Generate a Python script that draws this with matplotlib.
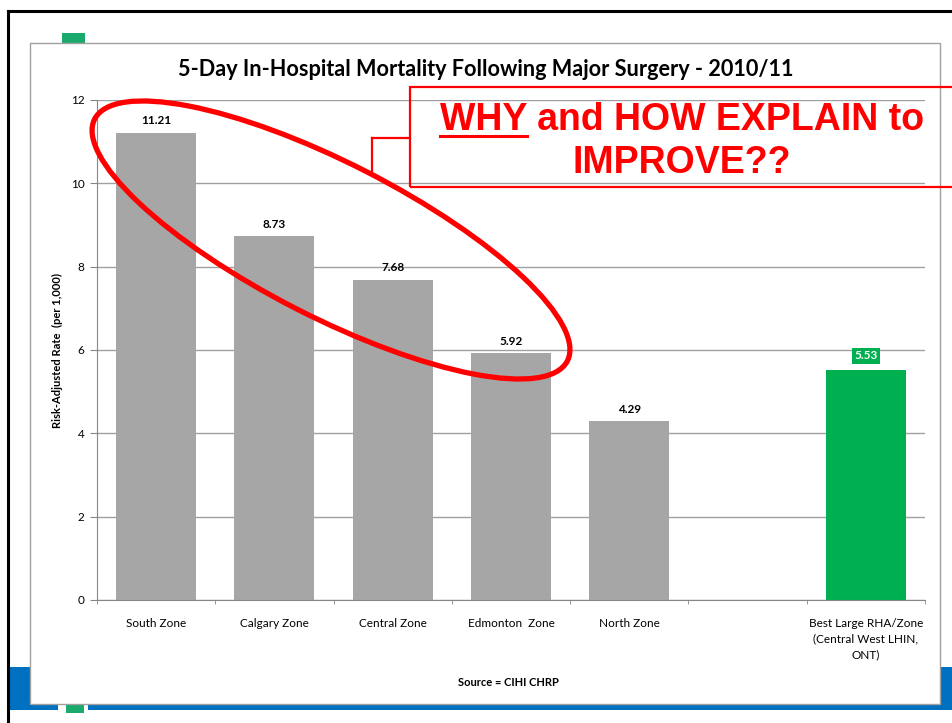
import numpy as np
import matplotlib
matplotlib.use("Agg")
import matplotlib.pyplot as plt
from matplotlib.patches import Rectangle, Ellipse
from matplotlib.lines import Line2D

categories = ["South Zone", "Calgary Zone", "Central Zone", "Edmonton  Zone", "North Zone", "",
              "Best Large RHA/Zone\n(Central West LHIN,\nONT)"]
rates = [11.21, 8.73, 7.68, 5.92, 4.29, None, 5.53]
bar_colors = ["#A6A6A6"] * 5 + [None, "#00B050"]
yticks = [0, 2, 4, 6, 8, 10, 12]

title = "5-Day In-Hospital Mortality Following Major Surgery - 2010/11"
ylabel = "Risk-Adjusted Rate  (per 1,000)"
source = "Source = CIHI CHRP"

W, H = 953, 723
plt.rcParams['font.family'] = ['Lato', 'DejaVu Sans']

fig = plt.figure(figsize=(W / 100, H / 100), dpi=100)


def fx(x):
    return x / W


def fy(y):
    return 1 - y / H


def box(x0, y0, x1, y1, **kw):
    r = Rectangle((fx(x0), fy(y1)), fx(x1) - fx(x0), fy(y0) - fy(y1),
                  transform=fig.transFigure, **kw)
    fig.add_artist(r)
    return r


def line(xs, ys, **kw):
    ln = Line2D([fx(x) for x in xs], [fy(y) for y in ys], transform=fig.transFigure, **kw)
    fig.add_artist(ln)
    return ln


# slide background bits
box(8, 667, 953, 710, facecolor="#0070C0", edgecolor="none", zorder=-5)
box(58, 704, 88, 713, facecolor="white", edgecolor="none", zorder=-4)
box(66, 704, 84, 713, facecolor="#1BAA6E", edgecolor="none", zorder=-4)
box(62, 33, 85, 44, facecolor="#1BAA6E", edgecolor="none", zorder=-4)
line([8, 953], [11, 11], color="black", lw=2.2, zorder=-4)
line([8, 8], [11, 723], color="black", lw=2.2, zorder=-4)

# chart frame
box(30, 43, 940, 704, facecolor="white", edgecolor="#A0A0A0", lw=1, zorder=-2)

ax = fig.add_axes([fx(97), fy(600), fx(925) - fx(97), fy(100) - fy(600)])
ax.patch.set_visible(False)

for i, (v, c) in enumerate(zip(rates, bar_colors)):
    if v is None:
        continue
    ax.bar(i, v, width=0.676, color=c, zorder=2)
    if c == "#00B050":
        ax.text(i, v + 0.33, f"{v:.2f}", ha="center", va="center", fontsize=8.5,
                fontweight="bold", color="white", zorder=3,
                bbox=dict(boxstyle="square,pad=0.22", fc="#00B050", ec="none"))
    else:
        ax.text(i, v + 0.29, f"{v:.2f}", ha="center", va="center", fontsize=8.5,
                fontweight="bold", color="black", zorder=3)

ax.set_xlim(-0.5, 6.5)
ax.set_ylim(0, 12)
ax.set_yticks(yticks)
ax.yaxis.grid(True, color="#A0A0A0", lw=1)
ax.set_axisbelow(True)
ax.set_xticks(range(len(categories)), categories)
for lab in ax.get_xticklabels():
    lab.set_linespacing(1.5)
ax.set_xticks(np.arange(-0.5, 7), minor=True)
ax.tick_params(axis="x", which="major", length=0, pad=13, labelsize=8.5)
ax.tick_params(axis="x", which="minor", length=3, color="#868686")
ax.tick_params(axis="y", length=5, color="#868686", labelsize=8.5, pad=4)
for s in ["top", "right"]:
    ax.spines[s].set_visible(False)
for s in ["left", "bottom"]:
    ax.spines[s].set_color("#868686")

fig.text(fx(57), fy(350), ylabel, rotation=90, ha="center", va="center",
         fontsize=8, fontweight="bold")
fig.text(fx(486), fy(70), title, ha="center", va="center", fontsize=15.6, fontweight="bold")
fig.text(fx(508), fy(682), source, ha="center", va="center", fontsize=8, fontweight="bold")

# red annotation
ell = Ellipse((3.31, (H - 240) / 100), 5.31, 1.54, angle=-27.1, fill=False,
              edgecolor="red", lw=3.8, transform=fig.dpi_scale_trans, zorder=10)
fig.add_artist(ell)
box(410, 87, 960, 187, fill=False, edgecolor="red", lw=1.6, zorder=10)
line([372, 410], [138, 138], color="red", lw=1.6, zorder=10)
line([372, 372], [138, 173], color="red", lw=1.6, zorder=10)

red_kw = dict(color="red", fontsize=27, fontweight="bold", family="Liberation Sans",
              ha="center", va="baseline", zorder=11)
t1 = fig.text(fx(682), fy(130), "WHY and HOW EXPLAIN to", **red_kw)
fig.text(fx(682), fy(173), "IMPROVE??", **red_kw)

fig.canvas.draw()
rend = fig.canvas.get_renderer()
bb = t1.get_window_extent(rend)
tmp = fig.text(0, 0, "WHY", **{k: v for k, v in red_kw.items() if k not in ("ha", "va")})
wb = tmp.get_window_extent(rend)
tmp.remove()
ux0 = bb.x0 / fig.dpi * 100
line([ux0, ux0 + wb.width / fig.dpi * 100], [136, 136], color="red", lw=2.2, zorder=11)

fig.savefig("out.png", dpi=100)
